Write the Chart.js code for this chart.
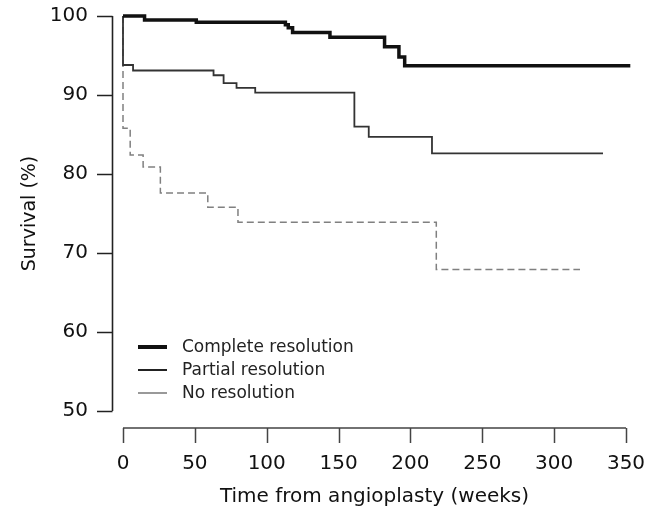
<!DOCTYPE html>
<html>
<head>
<meta charset="utf-8">
<title>Survival after angioplasty</title>
<script src="https://cdn.jsdelivr.net/npm/chart.js@4/dist/chart.umd.min.js"></script>
<style>
  html, body { margin:0; padding:0; background:#fff; }
  .wrap { position:relative; width:647px; height:514px; }
  .legend { position:absolute; left:138px; top:335px; font:17px 'DejaVu Sans', sans-serif; color:#222; }
  .legend__item { height:23px; line-height:23px; display:flex; align-items:center; white-space:nowrap; }
  .legend__swatch { display:inline-block; width:29px; margin-right:15px; }
</style>
</head>
<body>
<div class="wrap">
  <canvas id="kmChart" width="647" height="514"></canvas>
  <div class="legend" id="kmLegend"></div>
</div>
<script>
// ======== DATA ========
const seriesLabels = ['Complete resolution', 'Partial resolution', 'No resolution'];

const completeWeeks = [0, 15, 51, 113, 115, 118, 144, 182, 192, 196, 353];
const completeSurv  = [100, 99.5, 99.2, 98.9, 98.5, 97.9, 97.3, 96.1, 94.8, 93.7, 93.7];

const partialWeeks = [0, 0, 7, 63, 70, 79, 92, 161, 171, 215, 334];
const partialSurv  = [100, 93.8, 93.1, 92.5, 91.5, 90.9, 90.3, 86.0, 84.7, 82.6, 82.6];

const noneWeeks = [0, 0, 5, 14, 26, 59, 80, 218, 318];
const noneSurv  = [100, 85.8, 82.4, 80.9, 77.6, 75.8, 73.9, 67.9, 67.9];

const xTicks = { min: 0, max: 350, step: 50 };
const yTicks = { min: 50, max: 100, step: 10 };

const toPoints = (xs, ys) => xs.map((x, i) => ({ x, y: ys[i] }));

// ======== offset axes (drawn detached from the data, like the original) ========
const offsetAxes = {
  id: 'offsetAxes',
  afterDraw(chart) {
    const { ctx, scales: { x, y } } = chart;
    const ax = x.getPixelForValue(x.min) - 10.5;
    const ay = y.getPixelForValue(y.min) + 17;
    ctx.save();
    ctx.strokeStyle = '#222';
    ctx.lineWidth = 1.6;
    ctx.beginPath();
    ctx.moveTo(ax, y.getPixelForValue(y.max));
    ctx.lineTo(ax, y.getPixelForValue(y.min));
    y.ticks.forEach(t => {
      const py = Math.round(y.getPixelForValue(t.value)) + 0.5;
      ctx.moveTo(ax - 15.5, py); ctx.lineTo(ax, py);
    });
    ctx.stroke();
    ctx.strokeStyle = '#444';
    ctx.lineWidth = 1.5;
    ctx.beginPath();
    ctx.moveTo(x.getPixelForValue(x.min), ay);
    ctx.lineTo(x.getPixelForValue(x.max), ay);
    x.ticks.forEach(t => {
      const px = Math.round(x.getPixelForValue(t.value)) + 0.5;
      ctx.moveTo(px, ay); ctx.lineTo(px, ay + 15);
    });
    ctx.stroke();
    ctx.restore();
  }
};

Chart.defaults.font.family = "'DejaVu Sans', sans-serif";
Chart.defaults.color = '#111';

const datasets = [
  { label: seriesLabels[0], data: toPoints(completeWeeks, completeSurv),
    borderColor: '#111', borderWidth: 3.5 },
  { label: seriesLabels[1], data: toPoints(partialWeeks, partialSurv),
    borderColor: '#333', borderWidth: 1.8 },
  { label: seriesLabels[2], data: toPoints(noneWeeks, noneSurv),
    borderColor: '#808080', borderWidth: 1.5, borderDash: [7, 4] }
].map(d => Object.assign(d, { stepped: 'before', pointRadius: 0, tension: 0, fill: false, clip: false }));

const chart = new Chart(document.getElementById('kmChart'), {
  type: 'line',
  data: { datasets },
  plugins: [offsetAxes],
  options: {
    responsive: false,
    animation: false,
    layout: { padding: { top: 16, right: 21, bottom: 0, left: 0 } },
    plugins: { legend: { display: false }, tooltip: { enabled: false } },
    scales: {
      x: {
        type: 'linear', min: xTicks.min, max: xTicks.max,
        border: { display: false },
        grid: { display: false, drawTicks: true, tickLength: 32 },
        ticks: { stepSize: xTicks.step, padding: 9, maxRotation: 0, font: { size: 20 }, color: '#111' },
        title: { display: true, text: 'Time from angioplasty (weeks)', font: { size: 20 }, color: '#111',
                 padding: { top: 0, bottom: 5 } },
        afterFit(s) { s.height = 103; s.paddingLeft = 0; s.paddingRight = 0; }
      },
      y: {
        type: 'linear', min: yTicks.min, max: yTicks.max,
        border: { display: false },
        grid: { display: false, drawTicks: true, tickLength: 26 },
        ticks: { stepSize: yTicks.step, padding: 9, font: { size: 20 }, color: '#111' },
        title: { display: true, text: 'Survival (%)', font: { size: 19 }, color: '#111',
                 padding: { top: 19, bottom: 0 } },
        afterFit(s) { s.width = 123; s.paddingTop = 0; s.paddingBottom = 0; }
      }
    }
  }
});

// ======== legend (HTML, as in the printed figure) ========
const swatches = [
  { h: 4, c: '#111' },
  { h: 2, c: '#222' },
  { h: 2, c: '#999' }
];
const legend = document.getElementById('kmLegend');
seriesLabels.forEach((lb, i) => {
  const row = document.createElement('div');
  row.className = 'legend__item';
  row.innerHTML = `<span class="legend__swatch" style="height:${swatches[i].h}px;background:${swatches[i].c}"></span>${lb}`;
  legend.appendChild(row);
});
</script>
</body>
</html>
